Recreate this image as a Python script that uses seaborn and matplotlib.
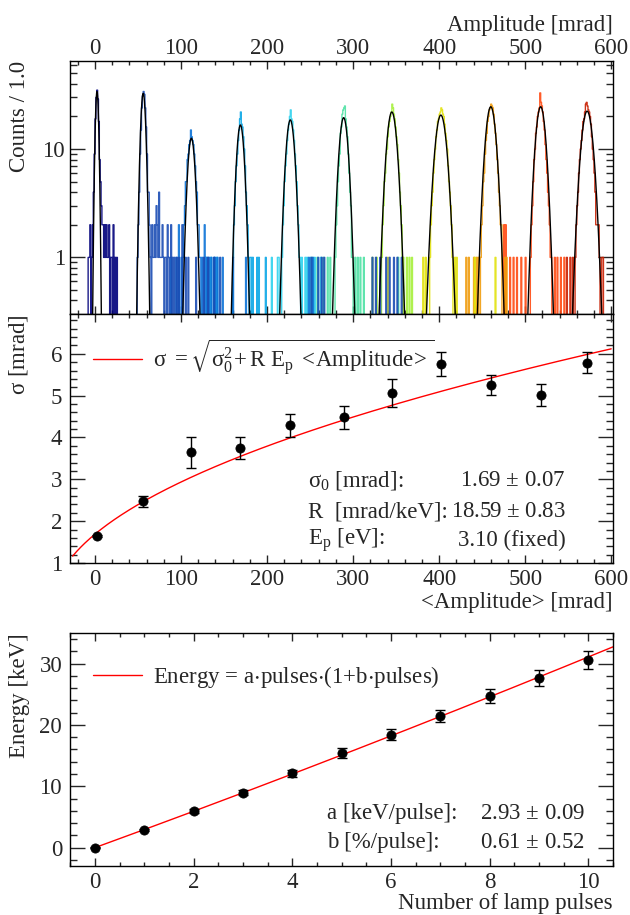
import numpy as np
import pandas as pd
import matplotlib
matplotlib.use("Agg")
import matplotlib.pyplot as plt
import seaborn as sns
from matplotlib.lines import Line2D
from matplotlib.ticker import (MultipleLocator, FixedLocator, LogLocator,
                               NullFormatter, FormatStrFormatter)

# ---- data ----
# peak positions / fitted widths (also the points of the middle panel)
peak_means = [2.3, 56, 112, 169, 227, 289, 345, 402, 460, 518, 572]
peak_sigmas = [1.65, 2.48, 3.65, 3.74, 4.29, 4.48, 5.06, 5.75, 5.25, 5.02, 5.79]
sigma_errs = [0.03, 0.13, 0.37, 0.26, 0.28, 0.27, 0.33, 0.29, 0.24, 0.26, 0.26]
peak_heights = [34, 32.7, 12.6, 16.7, 18.6, 19.5, 22, 20.6, 24.6, 24.6, 22.4]
peak_colors = ['#00007a', '#1a4cb4', '#0b72d6', '#0aa6e6', '#2ed2ee', '#4fe2a4',
               '#a6f03c', '#e2e20e', '#f09c0e', '#ff4a12', '#c81e00']

# histogram bin contents (1 mrad bins), core of each peak starting at first_bin
first_bin = [-8, 49, 102, 160, 217, 279, 333, 389, 448, 506, 558]
core_counts = [
    [1, 1, 2, 0, 1, 2, 4, 9, 19, 30, 35, 29, 18, 8, 5, 3, 2, 2, 1, 2, 1, 2, 1, 1, 2,
     0, 1, 1, 0, 2, 0, 1, 0, 1],
    [1, 2, 4, 9, 15, 24, 31, 34, 32, 24, 16, 9, 4, 4, 2, 1, 0, 2, 1, 1, 2, 1, 3, 2, 1,
     4, 1, 1, 1, 2, 1, 0, 1, 1, 0, 2, 1, 0, 1, 2, 0, 1, 0, 1, 0, 0, 1, 0, 1, 0, 0, 0, 2],
    [1, 2, 3, 5, 5, 8, 9, 11, 12, 15, 13, 12, 11, 9, 7, 5, 4, 2, 2, 1, 1],
    [1, 2, 3, 5, 7, 9, 12, 15, 19, 22, 17, 16, 13, 10, 7, 4, 3, 2, 1],
    [1, 2, 3, 5, 7, 9, 12, 15, 17, 20, 23, 19, 18, 15, 12, 9, 7, 5, 3, 2, 1, 1],
    [1, 2, 3, 5, 7, 9, 14, 16, 21, 23, 24, 25, 19, 16, 13, 9, 6, 4, 3, 1, 1],
    [1, 2, 3, 5, 6, 9, 10, 13, 16, 18, 20, 22, 26, 24, 21, 19, 16, 13, 11, 8, 6, 4, 3,
     2, 1, 1],
    [1, 2, 3, 4, 6, 8, 10, 13, 15, 18, 19, 21, 22, 24, 23, 21, 20, 17, 14, 12, 10, 7,
     5, 4, 3, 2, 1],
    [1, 2, 3, 5, 6, 9, 12, 14, 18, 20, 23, 24, 26, 25, 24, 21, 17, 14, 11, 8, 6, 4, 3,
     2, 2],
    [1, 2, 3, 5, 8, 10, 14, 16, 20, 22, 24, 33, 27, 25, 22, 18, 15, 11, 8, 6, 4, 3, 2,
     1, 1],
    [1, 2, 3, 4, 6, 8, 10, 12, 15, 18, 19, 22, 26, 27, 25, 23, 22, 20, 17, 13, 10, 8,
     6, 4, 2, 2, 2, 2, 1],
]
# scattered single entries away from each peak
tail_bins = [
    [],
    [105, 108, 117, 126, 131, 138, 145, 251, 259, 263, 266, 322, 326, 331, 338, 342,
     347, 351, 356],
    [88, 94, 97, 97, 100, 124, 127, 127, 129, 132, 135, 139, 142, 148, 160, 175, 248,
     253],
    [130, 134, 138, 141, 180, 181, 183, 188, 190, 198],
    [205, 212, 213, 240, 244, 246, 250, 255, 262],
    [252, 258, 265, 270, 273, 302, 305, 308, 312, 352],
    [322, 327, 362, 365, 368],
    [340, 357, 381, 384, 418, 420, 441, 465],
    [431, 434, 440, 443, 445, 476, 478],
    [475, 475, 477, 477, 482, 486, 490, 495, 500, 534, 537, 541, 545],
    [548, 552, 555, 589, 590],
]

# energy calibration
n_pulses = [0, 1, 2, 3, 4, 5, 6, 7, 8, 9, 10]
energy = [0.0, 2.93, 5.92, 8.97, 12.12, 15.43, 18.42, 21.47, 24.67, 27.72, 30.54]
energy_err = [0.05, 0.15, 0.3, 0.45, 0.6, 0.75, 0.85, 1.0, 1.15, 1.3, 1.47]

# fit results
sigma0, R, Ep = 1.69, 18.59, 0.0031   # mrad, mrad/keV, keV
a_fit, b_fit = 2.93, 0.0061

sns.set_style("ticks")
plt.rcParams['font.family'] = ['Liberation Serif', 'DejaVu Serif']
plt.rcParams['mathtext.fontset'] = 'stix'
plt.rcParams['mathtext.default'] = 'regular'
plt.rcParams['font.size'] = 16.5
plt.rcParams['axes.linewidth'] = 1.0
plt.rcParams['axes.edgecolor'] = 'black'

FS = 16.5

fig = plt.figure(figsize=(6.3, 9.15), dpi=100)
ax1 = fig.add_axes([0.1119, 0.6568, 0.861, 0.2765])
ax2 = fig.add_axes([0.1119, 0.3847, 0.861, 0.2721])
ax3 = fig.add_axes([0.1119, 0.0536, 0.861, 0.2546])

# -------------------------
# 1. Amplitude spectra
# -------------------------
edges = np.arange(-28, 603, 1)
centers = edges[:-1] + 0.5
parts = []
for i in range(len(peak_means)):
    vals = np.zeros(len(centers))
    start = first_bin[i] + 28
    vals[start:start + len(core_counts[i])] += core_counts[i]
    np.add.at(vals, np.array(tail_bins[i], dtype=int) + 28, 1)
    parts.append(pd.DataFrame({'amp': centers, 'counts': vals, 'peak': f'p{i}'}))
hist_df = pd.concat(parts, ignore_index=True)

sns.histplot(data=hist_df, x='amp', weights='counts', hue='peak',
             bins=edges.tolist(), element='step', fill=False, palette=peak_colors,
             legend=False, linewidth=1.0, alpha=0.9, ax=ax1)
for m, s, h in zip(peak_means, peak_sigmas, peak_heights):
    xg = np.linspace(m - 4 * s, m + 4 * s, 200)
    sns.lineplot(x=xg, y=h * np.exp(-0.5 * ((xg - m) / s) ** 2), color='black',
                 lw=1.0, ax=ax1)

ax1.set_yscale('log')
ax1.set_xlim(-28.5, 602)
ax1.set_ylim(0.3, 65)
ax1.yaxis.set_major_locator(FixedLocator([1, 10]))
ax1.yaxis.set_major_formatter(FormatStrFormatter('%g'))
ax1.yaxis.set_minor_locator(LogLocator(base=10, subs=np.arange(2, 10) * 1.0, numticks=20))
ax1.yaxis.set_minor_formatter(NullFormatter())
ax1.xaxis.set_major_locator(MultipleLocator(100))
ax1.xaxis.set_minor_locator(MultipleLocator(20))
ax1.tick_params(axis='x', which='both', top=True, bottom=True, labeltop=True,
                labelbottom=False, direction='in', pad=1.5, labelsize=FS)
ax1.xaxis.set_label_position('top')
ax1.set_xlabel('Amplitude [mrad]', fontsize=FS, loc='right')
ax1.xaxis.set_label_coords(1.0, 1.119)
ax1.set_ylabel('Counts / 1.0', fontsize=FS, loc='top')
ax1.yaxis.set_label_coords(-0.075, 1.0)

# -------------------------
# 2. Resolution vs amplitude
# -------------------------
ax2.errorbar(peak_means, peak_sigmas, yerr=sigma_errs, fmt='none', ecolor='black',
             elinewidth=1.0, capsize=3.5, capthick=1.0, zorder=3)
sns.scatterplot(x=peak_means, y=peak_sigmas, color='black', edgecolor='black',
                s=44, zorder=4, ax=ax2)
amp_grid = np.linspace(-26, 600, 400)
sns.lineplot(x=amp_grid, y=np.sqrt(sigma0 ** 2 + R * Ep * amp_grid), color='red',
             lw=1.0, ax=ax2)
ax2.set_xlim(-28.5, 602)
ax2.set_ylim(1, 6.95)
ax2.xaxis.set_major_locator(MultipleLocator(100))
ax2.xaxis.set_minor_locator(MultipleLocator(20))
ax2.yaxis.set_major_locator(MultipleLocator(1))
ax2.yaxis.set_minor_locator(MultipleLocator(0.2))
ax2.set_xlabel('<Amplitude> [mrad]', fontsize=FS, loc='right')
ax2.xaxis.set_label_coords(1.0, -0.116)
ax2.set_ylabel(r'$\sigma$ [mrad]', fontsize=FS, loc='top')
ax2.yaxis.set_label_coords(-0.075, 1.0)
ax2.legend(handles=[Line2D([], [], color='red', lw=1.0)],
           labels=[r'$\sigma\ =\sqrt{\sigma_0^2\!+R\ E_p\ <\!Amplitude\!>}$'],
           loc='center left', bbox_to_anchor=(0.041, 0.828), frameon=False,
           fontsize=FS, handlelength=2.15, handletextpad=0.5, borderpad=0,
           borderaxespad=0)
stat_rows2 = [(r'$\sigma_0$ [mrad]:', '1.69 $\\pm$ 0.07'),
              ('R  [mrad/keV]:', '18.59 $\\pm$ 0.83'),
              (r'$E_p$ [eV]:', '3.10 (fixed)')]
for (lab, val), yy in zip(stat_rows2, [0.333, 0.205, 0.092]):
    ax2.text(0.438, yy, lab, transform=ax2.transAxes, fontsize=FS, va='center', ha='left')
    ax2.text(0.913, yy, val, transform=ax2.transAxes, fontsize=FS, va='center', ha='right')

# -------------------------
# 3. Energy calibration
# -------------------------
ax3.errorbar(n_pulses, energy, yerr=energy_err, fmt='none', ecolor='black',
             elinewidth=1.0, capsize=3.5, capthick=1.0, zorder=3)
sns.scatterplot(x=n_pulses, y=energy, color='black', edgecolor='black', s=44,
                zorder=4, ax=ax3)
p_grid = np.linspace(0, 10.5, 200)
sns.lineplot(x=p_grid, y=a_fit * p_grid * (1 + b_fit * p_grid), color='red', lw=1.0,
             ax=ax3)
ax3.set_xlim(-0.5, 10.5)
ax3.set_ylim(-3, 35)
ax3.xaxis.set_major_locator(MultipleLocator(2))
ax3.xaxis.set_minor_locator(MultipleLocator(0.5))
ax3.yaxis.set_major_locator(MultipleLocator(10))
ax3.yaxis.set_minor_locator(MultipleLocator(2))
ax3.set_xlabel('Number of lamp pulses', fontsize=FS, loc='right')
ax3.xaxis.set_label_coords(1.0, -0.116)
ax3.set_ylabel('Energy [keV]', fontsize=FS, loc='top')
ax3.yaxis.set_label_coords(-0.075, 1.0)
ax3.legend(handles=[Line2D([], [], color='red', lw=1.0)],
           labels=['Energy = a$\\cdot$pulses$\\cdot$(1+b$\\cdot$pulses)'],
           loc='center left', bbox_to_anchor=(0.041, 0.81), frameon=False,
           fontsize=FS, handlelength=2.15, handletextpad=0.5, borderpad=0,
           borderaxespad=0)
stat_rows3 = [('a [keV/pulse]:', '2.93 $\\pm$ 0.09'),
              ('b [%/pulse]:', '0.61 $\\pm$ 0.52')]
for (lab, val), yy in zip(stat_rows3, [0.227, 0.099]):
    ax3.text(0.473, yy, lab, transform=ax3.transAxes, fontsize=FS, va='center', ha='left')
    ax3.text(0.948, yy, val, transform=ax3.transAxes, fontsize=FS, va='center', ha='right')

# common ROOT-like ticks
for ax in (ax2, ax3):
    ax.tick_params(axis='x', which='both', top=True, bottom=True, direction='in',
                   pad=4, labelsize=FS)
for ax in (ax1, ax2, ax3):
    ax.tick_params(axis='y', which='both', left=True, right=True, direction='in',
                   pad=6, labelsize=FS)
    ax.tick_params(axis='x', which='major', length=5.8, width=1.0)
    ax.tick_params(axis='x', which='minor', length=2.9, width=1.0)
    ax.tick_params(axis='y', which='major', length=10.5, width=1.0)
    ax.tick_params(axis='y', which='minor', length=5.3, width=1.0)
    for sp in ax.spines.values():
        sp.set_visible(True)
        sp.set_linewidth(1.0)
ax1.tick_params(axis='y', pad=4)

fig.savefig('out.png', dpi=100)
